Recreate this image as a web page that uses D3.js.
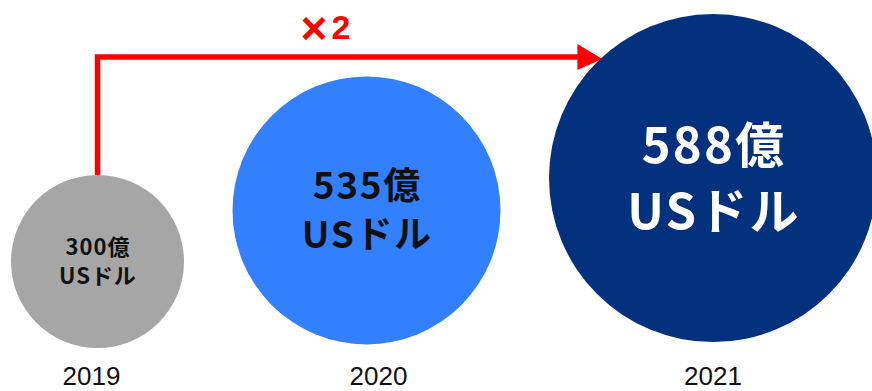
<!DOCTYPE html>
<html>
<head>
<meta charset="utf-8">
<script src="https://cdn.jsdelivr.net/npm/d3@7"></script>
<style>
  html, body { margin: 0; padding: 0; background: #fff; }
  svg { display: block; }
</style>
</head>
<body>
<svg id="chart" width="872" height="391"></svg>
<script>
// Market size by year (億 USドル)
const years = ["2019", "2020", "2021"];
const values = [300, 535, 588];
const growthTimes = "×";
const growthFactor = "2";
const unitLabel = "USドル";

// Styling per bubble
const fills = ["#a6a6a6", "#3380ff", "#03317d"];
const textColors = ["#111111", "#111111", "#ffffff"];
const labelSizes = [22, 37, 49];
const yearDx = [-6, 12, 0];

const width = 872, height = 391;
const svg = d3.select("#chart");

// Bubble radius from value
const r = d3.scaleLinear().domain([300, 535, 588]).range([86.5, 134, 164]);

// Lay the bubbles out left to right with a constant gap
const leftEdge = 11, gap = 48.5;
const nodes = [];
let cursor = leftEdge;
values.forEach((v, i) => {
  const rad = r(v);
  const cx = cursor + rad;
  const cy = 354.7 - 1.077 * rad;
  nodes.push({ year: years[i], value: v, r: rad, cx, cy, i });
  cursor = cx + rad + gap;
});

// Growth arrow from the first bubble to the last
const first = nodes[0], last = nodes[nodes.length - 1];
const arrowY = 57;
const tipX = last.cx - Math.sqrt(last.r * last.r - (last.cy - arrowY) ** 2);
const headLen = 25, headHalf = 13;
const red = "#ff0000";

svg.append("path")
  .attr("d", d3.line()([[first.cx, first.cy - first.r], [first.cx, arrowY], [tipX - headLen + 2, arrowY]]))
  .attr("fill", "none")
  .attr("stroke", red)
  .attr("stroke-width", 5.5);

svg.append("path")
  .attr("d", d3.line()([[tipX - headLen, arrowY - headHalf], [tipX, arrowY + 2], [tipX - headLen, arrowY + headHalf]]) + "Z")
  .attr("fill", red);

// Growth multiple above the arrow
const growth = svg.append("text")
  .attr("font-family", "'Liberation Sans', Arial, sans-serif")
  .attr("font-weight", "bold")
  .attr("fill", red);
growth.append("tspan")
  .attr("x", 314)
  .attr("y", 44)
  .attr("text-anchor", "middle")
  .attr("font-size", 46)
  .text(growthTimes);
growth.append("tspan")
  .attr("x", 341)
  .attr("y", 39)
  .attr("text-anchor", "middle")
  .attr("font-size", 34)
  .text(growthFactor);

// Bubbles
const g = svg.selectAll("g.bubble").data(nodes).join("g").attr("class", "bubble");

g.append("circle")
  .attr("cx", d => d.cx)
  .attr("cy", d => d.cy)
  .attr("r", d => d.r)
  .attr("fill", d => fills[d.i]);

const labelFont = sel => sel
  .attr("text-anchor", "middle")
  .attr("font-family", "'Noto Sans CJK JP', sans-serif")
  .attr("font-weight", "bold")
  .attr("font-size", d => labelSizes[d.i])
  .attr("letter-spacing", d => (0.045 * labelSizes[d.i]).toFixed(2))
  .attr("fill", d => textColors[d.i]);

g.append("text")
  .attr("x", d => d.cx + 0.02 * labelSizes[d.i])
  .attr("y", d => d.cy - 0.3 * labelSizes[d.i])
  .call(labelFont)
  .text(d => d.value + "億");

g.append("text")
  .attr("x", d => d.cx + 0.02 * labelSizes[d.i])
  .attr("y", d => d.cy + 1.03 * labelSizes[d.i])
  .call(labelFont)
  .text(unitLabel);

// Year captions below each bubble
g.append("text")
  .attr("x", d => d.cx + yearDx[d.i])
  .attr("y", 384.5)
  .attr("text-anchor", "middle")
  .attr("font-family", "'Liberation Sans', Arial, sans-serif")
  .attr("font-size", 26)
  .attr("fill", "#111111")
  .text(d => d.year);
</script>
</body>
</html>
